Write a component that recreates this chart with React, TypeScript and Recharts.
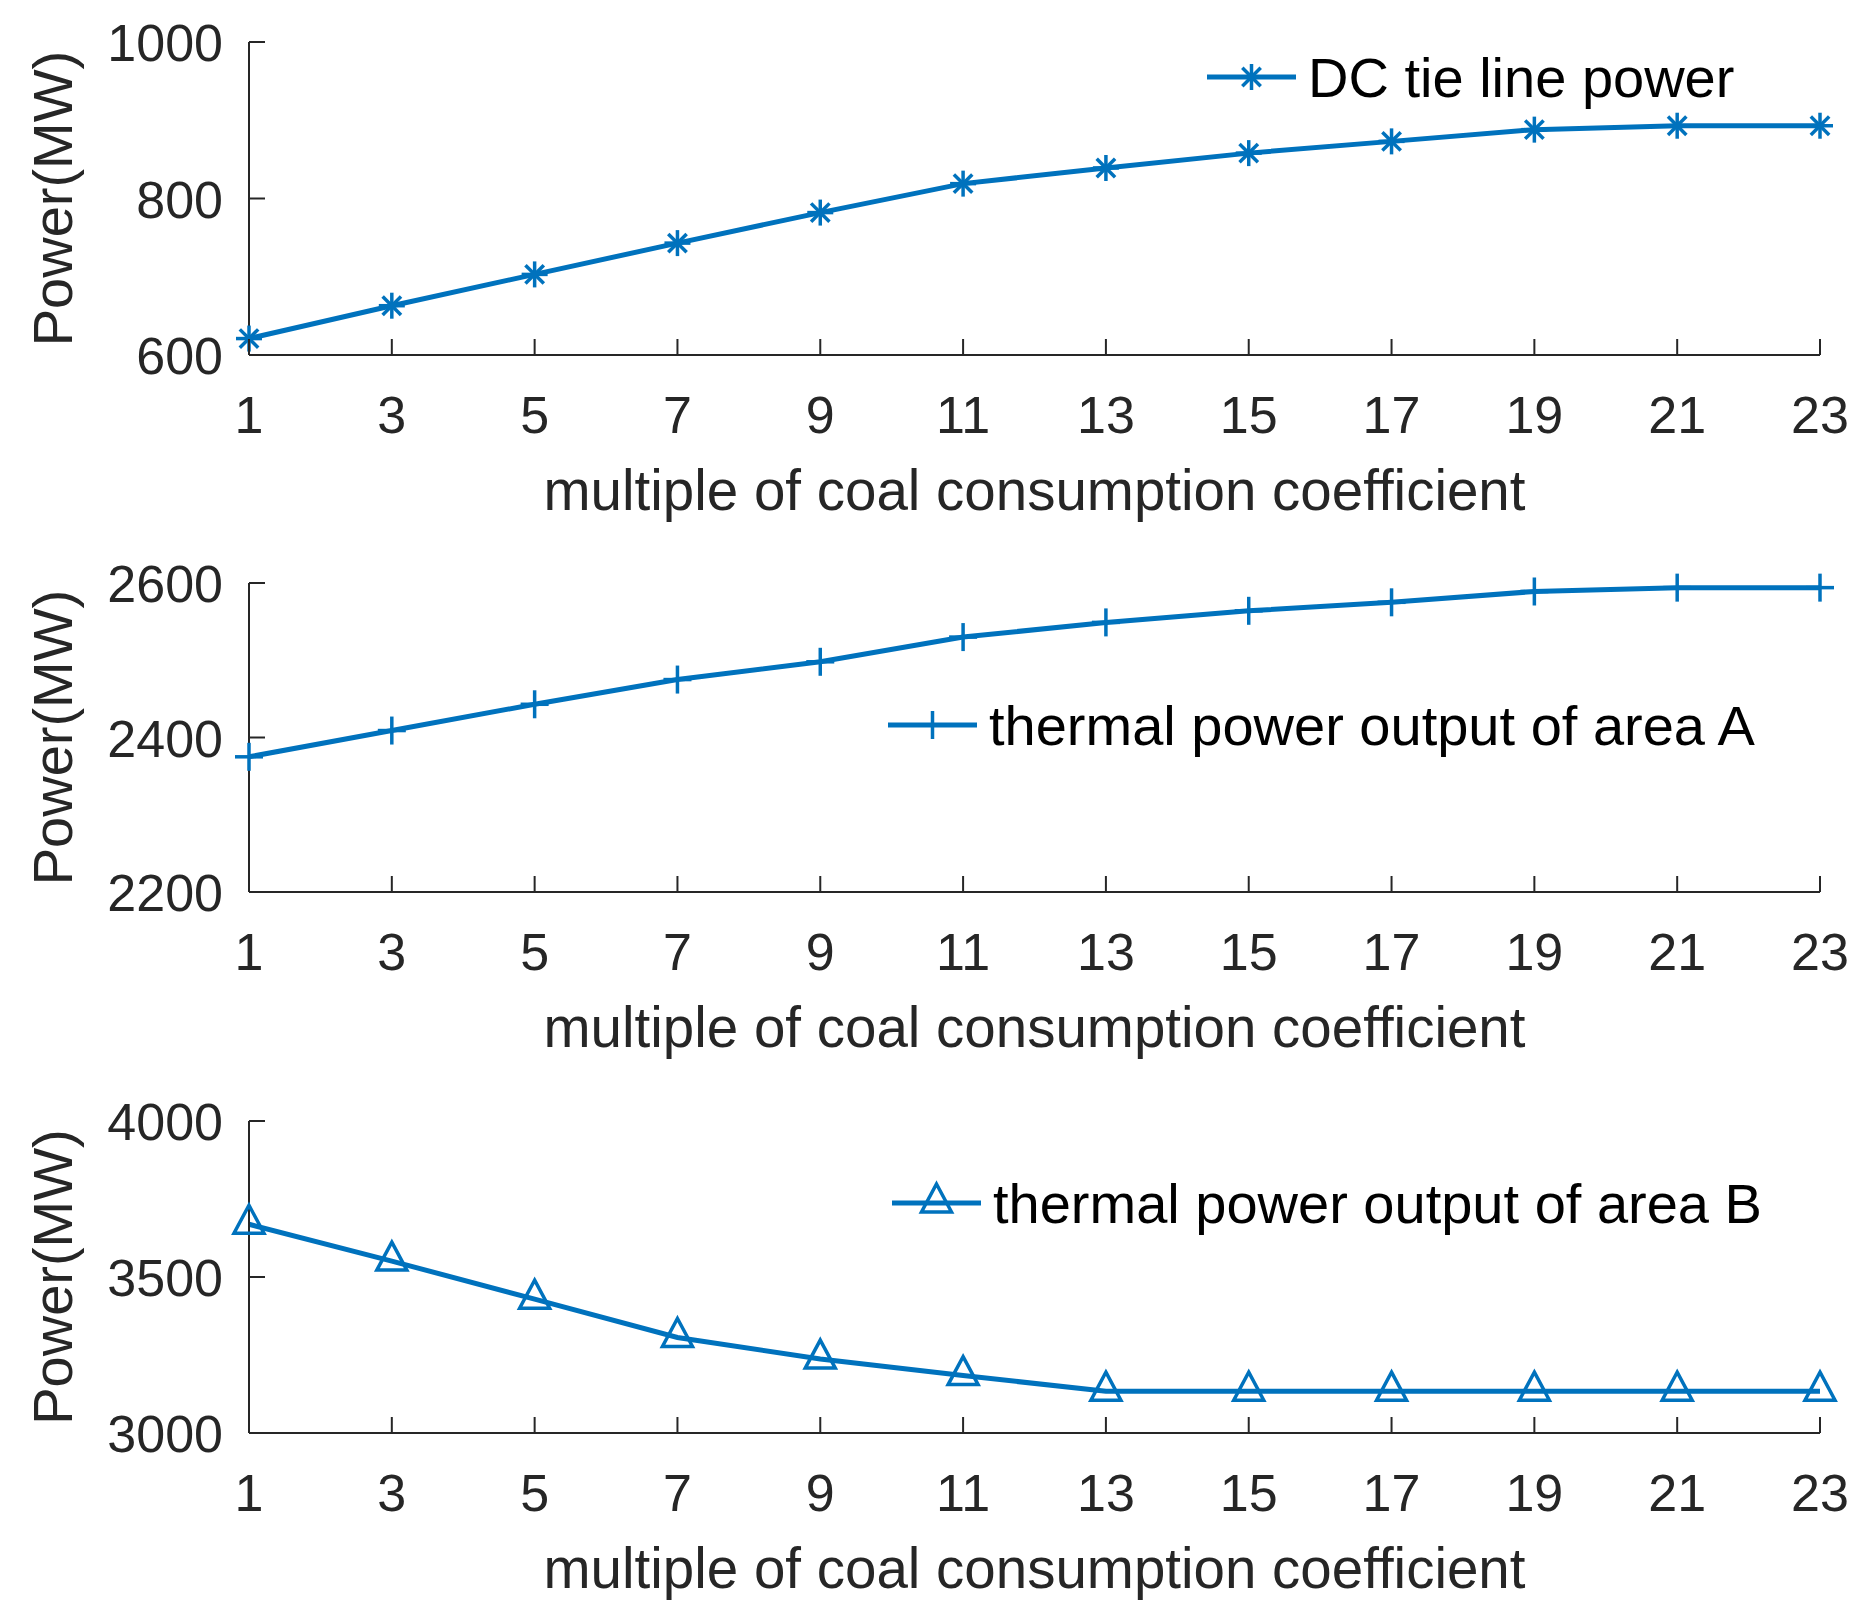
import React from 'react';
import { LineChart, Line, XAxis, YAxis, Legend, Label } from 'recharts';

const multiples = [1, 3, 5, 7, 9, 11, 13, 15, 17, 19, 21, 23];
const dcTieLine = [621, 663, 703, 743, 782, 819, 839, 858, 873, 888, 893, 893];
const thermalA = [2375, 2409, 2443, 2475, 2498, 2530, 2549, 2564, 2575, 2589, 2594, 2594];
const thermalB = [3669, 3551, 3429, 3306, 3237, 3184, 3134, 3134, 3134, 3134, 3134, 3134];

const ticksDc = [600, 800, 1000];
const ticksA = [2200, 2400, 2600];
const ticksB = [3000, 3500, 4000];

const BLUE = '#0072BD';
const INK = '#262626';
const FONT = 'Arial, "Liberation Sans", sans-serif';

type MarkerKind = 'star' | 'plus' | 'triangle';

const Marker = ({ kind, cx, cy }: { kind: MarkerKind; cx: number; cy: number }) => {
  if (kind === 'star') {
    const r = 13;
    const d = 9.2;
    return (
      <g stroke={BLUE} strokeWidth={3.5} fill="none">
        <line x1={cx} y1={cy - r} x2={cx} y2={cy + r} />
        <line x1={cx - r} y1={cy} x2={cx + r} y2={cy} />
        <line x1={cx - d} y1={cy - d} x2={cx + d} y2={cy + d} />
        <line x1={cx - d} y1={cy + d} x2={cx + d} y2={cy - d} />
      </g>
    );
  }
  if (kind === 'plus') {
    return (
      <g stroke={BLUE} strokeWidth={3.5} fill="none">
        <line x1={cx} y1={cy - 14} x2={cx} y2={cy + 14} />
        <line x1={cx - 14} y1={cy} x2={cx + 14} y2={cy} />
      </g>
    );
  }
  return (
    <polygon
      points={`${cx},${cy - 19} ${cx + 15},${cy + 9} ${cx - 15},${cy + 9}`}
      stroke={BLUE}
      strokeWidth={3.5}
      fill="none"
    />
  );
};

const XTick = ({ x, y, payload }: any) => (
  <g>
    <line x1={x} y1={y} x2={x} y2={y - 16} stroke={INK} strokeWidth={2} />
    <text x={x} y={y + 78} textAnchor="middle" fontSize={52} fontFamily={FONT} fill={INK}>
      {payload.value}
    </text>
  </g>
);

const YTick = ({ x, y, payload }: any) => (
  <g>
    <line x1={x} y1={y} x2={x + 16} y2={y} stroke={INK} strokeWidth={2} />
    <text x={x - 26} y={y + 19} textAnchor="end" fontSize={52} fontFamily={FONT} fill={INK}>
      {payload.value}
    </text>
  </g>
);

interface PanelProps {
  values: number[];
  domain: [number, number];
  ticks: number[];
  name: string;
  marker: MarkerKind;
  top: number;
  plotHeight: number;
  legendLeft: number;
  legendTop: number;
}

const Panel = ({ values, domain, ticks, name, marker, top, plotHeight, legendLeft, legendTop }: PanelProps) => {
  const data = multiples.map((m, i) => ({ m, v: values[i] }));
  const chartHeight = 540;
  const xAxisHeight = chartHeight - 42 - plotHeight;
  return (
    <div style={{ position: 'absolute', left: 0, top }}>
      <LineChart
        width={1873}
        height={chartHeight}
        data={data}
        margin={{ top: 42, right: 53, bottom: 0, left: 0 }}
      >
        <XAxis
          dataKey="m"
          type="number"
          domain={[1, 23]}
          ticks={multiples}
          interval={0}
          height={xAxisHeight}
          tickSize={0}
          tickMargin={0}
          tickLine={false}
          axisLine={{ stroke: INK, strokeWidth: 2 }}
          tick={(p: any) => <XTick key={`xt-${p.index}`} {...p} />}
        >
          <Label
            content={(p: any) => {
              const vb = p.viewBox || { x: 249, y: 42 + plotHeight, width: 1571 };
              return (
                <text
                  x={vb.x + vb.width / 2}
                  y={vb.y + 155}
                  textAnchor="middle"
                  fontSize={56.5}
                  fontFamily={FONT}
                  fill={INK}
                >
                  multiple of coal consumption coefficient
                </text>
              );
            }}
          />
        </XAxis>
        <YAxis
          type="number"
          domain={domain}
          ticks={ticks}
          interval={0}
          width={249}
          tickSize={0}
          tickMargin={0}
          tickLine={false}
          axisLine={{ stroke: INK, strokeWidth: 2 }}
          tick={(p: any) => <YTick key={`yt-${p.index}`} {...p} />}
        >
          <Label
            content={() => (
              <text
                x={72}
                y={42 + plotHeight / 2}
                transform={`rotate(-90 72 ${42 + plotHeight / 2})`}
                textAnchor="middle"
                fontSize={56}
                fontFamily={FONT}
                fill={INK}
              >
                Power(MW)
              </text>
            )}
          />
        </YAxis>
        <Legend
          layout="horizontal"
          verticalAlign="middle"
          align="center"
          wrapperStyle={{ position: 'absolute', left: legendLeft, top: legendTop, width: 980 }}
          content={() => (
            <svg width={980} height={80} style={{ display: 'block', overflow: 'visible' }}>
              <line x1={0} y1={35} x2={89} y2={35} stroke={BLUE} strokeWidth={5} />
              <Marker kind={marker} cx={44.5} cy={35} />
              <text x={101} y={55} fontSize={56} fontFamily={FONT} fill="#000">
                {name}
              </text>
            </svg>
          )}
        />
        <Line
          type="linear"
          dataKey="v"
          name={name}
          stroke={BLUE}
          strokeWidth={5}
          isAnimationActive={false}
          dot={(p: any) => <Marker key={`dot-${p.index}`} kind={marker} cx={p.cx} cy={p.cy} />}
          activeDot={false}
        />
      </LineChart>
    </div>
  );
};

export default function App() {
  return (
    <div style={{ position: 'absolute', left: 0, top: 0, width: 1873, height: 1622, background: '#fff' }}>
      <Panel
        values={dcTieLine}
        domain={[600, 1000]}
        ticks={ticksDc}
        name="DC tie line power"
        marker="star"
        top={0}
        plotHeight={313}
        legendLeft={1207}
        legendTop={41.5}
      />
      <Panel
        values={thermalA}
        domain={[2200, 2600]}
        ticks={ticksA}
        name="thermal power output of area A"
        marker="plus"
        top={541}
        plotHeight={309}
        legendLeft={888}
        legendTop={148.5}
      />
      <Panel
        values={thermalB}
        domain={[3000, 4000]}
        ticks={ticksB}
        name="thermal power output of area B"
        marker="triangle"
        top={1079}
        plotHeight={312}
        legendLeft={892}
        legendTop={89}
      />
    </div>
  );
}
